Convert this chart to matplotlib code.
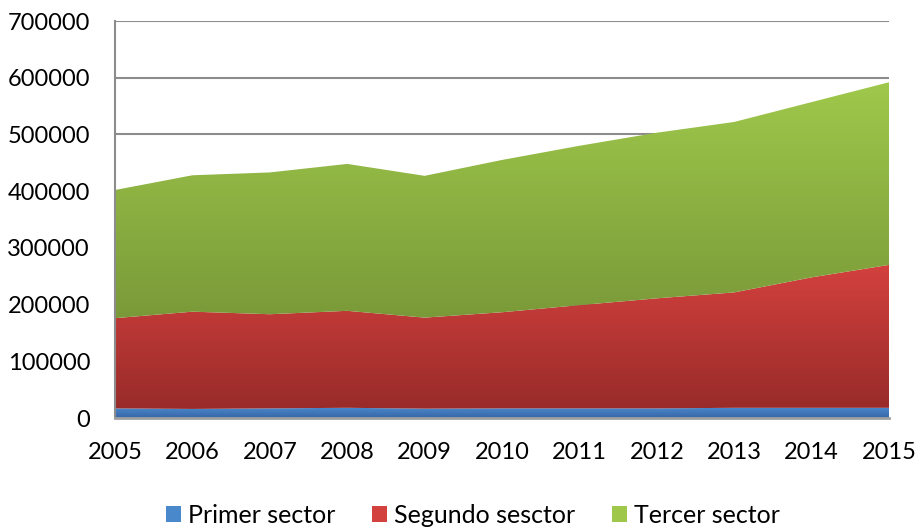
import matplotlib
matplotlib.use("Agg")
import matplotlib.pyplot as plt
import numpy as np
from matplotlib.colors import LinearSegmentedColormap
from matplotlib.patches import Patch

# data (stacked areas)
years = [2005, 2006, 2007, 2008, 2009, 2010, 2011, 2012, 2013, 2014, 2015]
primer = [17000, 16000, 17000, 18000, 16500, 17000, 17000, 17000, 18000, 18000, 18000]
segundo = [159000, 171500, 166000, 171000, 160500, 169500, 182000, 194000, 203500, 230000, 252000]
tercer = [226000, 240500, 250000, 259000, 250000, 268500, 281000, 292000, 300500, 309000, 322000]

labels = ["Primer sector", "Segundo sesctor", "Tercer sector"]
# (top colour, bottom colour) of the gradient fill
grads = [("#4a88cc", "#3766a6"), ("#d3413e", "#982b29"), ("#9fc84b", "#7a9a39")]

plt.rcParams['font.family'] = ['Lato', 'DejaVu Sans']

fig = plt.figure(figsize=(9.18, 5.29), dpi=100)
ax = fig.add_axes([0.1253, 0.2098, 0.8431, 0.7505])

x = np.array(years, dtype=float)
base = np.zeros(len(years))
for vals, (ctop, cbot), lab in zip([primer, segundo, tercer], grads, labels):
    top = base + np.array(vals, dtype=float)
    poly = ax.fill_between(x, base, top, facecolor="none", edgecolor="none", zorder=2)
    cmap = LinearSegmentedColormap.from_list("g", [cbot, ctop])
    grad = np.linspace(0, 1, 256).reshape(-1, 1)
    im = ax.imshow(grad, cmap=cmap, aspect="auto", origin="lower",
                   extent=[x[0], x[-1], base.min(), top.max()], zorder=2)
    im.set_clip_path(poly.get_paths()[0], transform=ax.transData)
    base = top

ax.set_xlim(2005, 2015)
ax.set_ylim(0, 700000)
ax.set_yticks(np.arange(0, 700001, 100000))
ax.set_xticks(years)
ax.grid(axis="y", color="#8c8c8c", linewidth=1.5, zorder=1)
ax.set_axisbelow(True)
ax.tick_params(length=0, labelsize=17, colors="black")
ax.tick_params(axis="x", pad=17)
ax.tick_params(axis="y", pad=18)
for s in ["top", "right"]:
    ax.spines[s].set_visible(False)
ax.spines["left"].set_color("#8c8c8c")
ax.spines["left"].set_linewidth(1.5)
ax.spines["bottom"].set_color("#a0a0a0")
ax.spines["bottom"].set_linewidth(2)

handles = [Patch(facecolor=g[0], edgecolor="none") for g in grads]
fig.legend(handles, labels, loc="center", bbox_to_anchor=(0.515, 0.026), ncol=3,
           frameon=False, fontsize=18, handlelength=0.6, handleheight=0.6,
           handletextpad=0.3, columnspacing=1.45)

fig.savefig("out.png", dpi=100)
